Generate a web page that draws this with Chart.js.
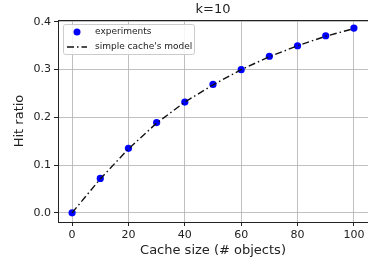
<!DOCTYPE html>
<html>
<head>
<meta charset="utf-8">
<script src="https://cdn.jsdelivr.net/npm/chart.js@4.4.0/dist/chart.umd.min.js"></script>
<style>
    html, body { margin: 0; padding: 0; overflow: hidden; background: #fff; }
</style>
</head>
<body>
<canvas id="chart" width="372" height="265"></canvas>
<script>
// values
const cacheSizes = [0, 10, 20, 30, 40, 50, 60, 70, 80, 90, 100];
const hitExperiments = [0.000, 0.072, 0.135, 0.189, 0.232, 0.269, 0.300, 0.328, 0.350, 0.371, 0.387];
const hitModel = [0.000, 0.071, 0.134, 0.188, 0.232, 0.268, 0.300, 0.327, 0.350, 0.370, 0.386];
const xTicks = [0, 20, 40, 60, 80, 100];
const yTicks = [0.0, 0.1, 0.2, 0.3, 0.4];

const font = "'DejaVu Sans', sans-serif";

function toPoints(xs, ys) {
    return xs.map(function (x, i) { return { x: x, y: ys[i] }; });
}

// frame around the plot area, like matplotlib spines
const framePlugin = {
    id: 'frame',
    afterDatasetsDraw: function (chart) {
        const a = chart.chartArea;
        const ctx = chart.ctx;
        ctx.save();
        ctx.strokeStyle = '#222';
        ctx.lineWidth = 1;
        ctx.strokeRect(a.left + 0.5, a.top + 0.5, a.right - a.left, a.bottom - a.top);
        ctx.restore();
    }
};

// legend drawn inside the plot, upper left
const innerLegend = {
    id: 'innerLegend',
    afterDraw: function (chart) {
        const a = chart.chartArea;
        const ctx = chart.ctx;
        const x0 = a.left + 5, y0 = a.top + 4;
        ctx.save();
        ctx.fillStyle = 'rgba(255,255,255,0.85)';
        ctx.strokeStyle = '#cccccc';
        ctx.lineWidth = 1;
        ctx.beginPath();
        if (ctx.roundRect) ctx.roundRect(x0 + 0.5, y0 + 0.5, 131, 30, 2);
        else ctx.rect(x0 + 0.5, y0 + 0.5, 131, 30);
        ctx.fill();
        ctx.stroke();

        const dsPts = chart.data.datasets[0];
        const dsLine = chart.data.datasets[1];

        ctx.fillStyle = dsPts.backgroundColor;
        ctx.beginPath();
        ctx.arc(x0 + 14, y0 + 8, 3.5, 0, Math.PI * 2);
        ctx.fill();

        ctx.strokeStyle = dsLine.borderColor;
        ctx.lineWidth = 1.5;
        ctx.setLineDash(dsLine.borderDash);
        ctx.beginPath();
        ctx.moveTo(x0 + 4, y0 + 23);
        ctx.lineTo(x0 + 24, y0 + 23);
        ctx.stroke();
        ctx.setLineDash([]);

        ctx.fillStyle = '#222';
        ctx.font = '9px ' + font;
        ctx.textBaseline = 'middle';
        ctx.fillText(dsPts.label, x0 + 32, y0 + 8);
        ctx.fillText(dsLine.label, x0 + 32, y0 + 23);
        ctx.restore();
    }
};

new Chart(document.getElementById('chart'), {
    type: 'scatter',
    data: {
        datasets: [
            {
                label: 'experiments',
                data: toPoints(cacheSizes, hitExperiments),
                backgroundColor: '#0000ff',
                borderColor: '#0000ff',
                pointRadius: 3.6,
                pointBorderWidth: 0,
                showLine: false,
                order: 1
            },
            {
                label: "simple cache's model",
                data: toPoints(cacheSizes, hitModel),
                borderColor: '#111111',
                backgroundColor: '#111111',
                borderWidth: 1.4,
                borderDash: [7, 3, 1.5, 3],
                pointRadius: 0,
                showLine: true,
                tension: 0,
                order: 0
            }
        ]
    },
    options: {
        responsive: false,
        animation: false,
        devicePixelRatio: 1,
        layout: { padding: { left: 0, right: 1, top: 0, bottom: 0 } },
        plugins: {
            legend: { display: false },
            tooltip: { enabled: false },
            title: {
                display: true,
                text: 'k=10',
                fullSize: false,
                color: '#222',
                font: { family: font, size: 13, weight: 'normal' },
                padding: { top: 2, bottom: 2.4 }
            }
        },
        scales: {
            x: {
                type: 'linear',
                min: -5,
                max: 105,
                afterFit: function (s) { s.height = 43; },
                afterBuildTicks: function (s) { s.ticks = xTicks.map(function (v) { return { value: v }; }); },
                ticks: {
                    includeBounds: false,
                    color: '#222',
                    padding: 3,
                    maxRotation: 0,
                    font: { family: font, size: 11 }
                },
                grid: { color: '#b0b0b0', lineWidth: 0.8, tickLength: 4, tickColor: '#222', tickWidth: 1 },
                border: { display: false },
                title: {
                    display: true,
                    text: 'Cache size (# objects)',
                    color: '#222',
                    font: { family: font, size: 13 },
                    padding: { top: 0, bottom: 7 }
                }
            },
            y: {
                type: 'linear',
                min: -0.0193,
                max: 0.404,
                afterFit: function (s) { s.width = 58; },
                afterBuildTicks: function (s) { s.ticks = yTicks.map(function (v) { return { value: v }; }); },
                ticks: {
                    includeBounds: false,
                    color: '#222',
                    padding: 3,
                    font: { family: font, size: 11 },
                    callback: function (v) { return Number(v).toFixed(1); }
                },
                grid: { color: '#b0b0b0', lineWidth: 0.8, tickLength: 4, tickColor: '#222', tickWidth: 1 },
                border: { display: false },
                title: {
                    display: true,
                    text: 'Hit ratio',
                    color: '#222',
                    font: { family: font, size: 13 },
                    padding: { top: 12, bottom: 0 }
                }
            }
        }
    },
    plugins: [framePlugin, innerLegend]
});
</script>
</body>
</html>
